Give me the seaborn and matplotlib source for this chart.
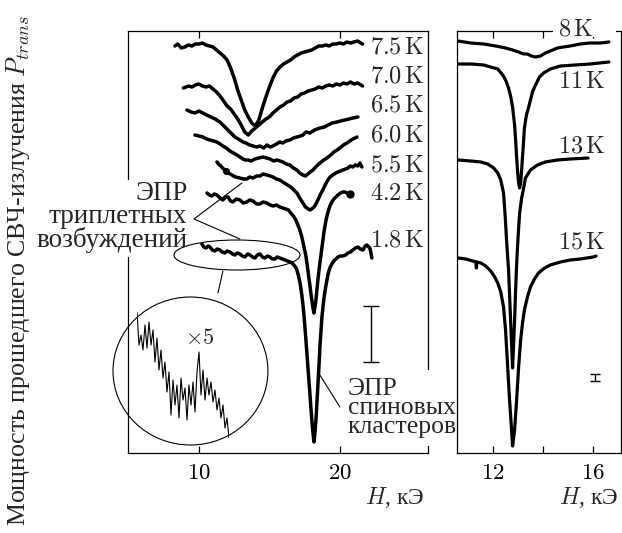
import numpy as np
import pandas as pd
import matplotlib
matplotlib.use('Agg')
import matplotlib.pyplot as plt
import seaborn as sns
from matplotlib.patches import Ellipse, Rectangle

sns.set_style('white')
plt.rcParams['font.family'] = ['Liberation Serif', 'DejaVu Serif']
plt.rcParams['mathtext.fontset'] = 'cm'

# ---------------- data (field H in kOe, transmitted power in arb. units) -------------
T75 = [(8.30, 407), (8.50, 409), (8.75, 405), (9.00, 406), (9.25, 408), (9.50, 407), (9.75, 409),
       (10.00, 409), (10.25, 410), (10.50, 408), (10.75, 407), (11.00, 406), (11.25, 403), (11.50, 400),
       (11.75, 397), (12.00, 393), (12.25, 385), (12.50, 375), (12.75, 363), (13.00, 353), (13.25, 343),
       (13.50, 336), (13.75, 330), (14.00, 327), (14.25, 333), (14.50, 345), (14.75, 356), (15.00, 366),
       (15.25, 375), (15.50, 382), (15.75, 386), (16.00, 389), (16.25, 391), (16.50, 393), (16.75, 396),
       (17.00, 398), (17.25, 400), (17.50, 401), (17.75, 402), (18.00, 403), (18.25, 405), (18.50, 407),
       (18.75, 407), (19.00, 408), (19.25, 407), (19.50, 409), (19.75, 409), (20.00, 410), (20.25, 409),
       (20.50, 411), (20.75, 410), (21.00, 411), (21.25, 412), (21.60, 409)]
T70 = [(8.90, 365), (9.25, 367), (9.50, 366), (9.75, 368), (10.00, 369), (10.25, 367), (10.50, 366),
       (10.75, 367), (11.00, 364), (11.25, 361), (11.50, 357), (11.75, 352), (12.00, 347), (12.25, 344),
       (12.50, 339), (12.75, 334), (13.00, 328), (13.25, 321), (13.50, 318), (13.75, 322), (14.00, 325),
       (14.25, 328), (14.50, 331), (14.75, 334), (15.00, 336), (15.25, 340), (15.50, 343), (15.75, 346),
       (16.00, 348), (16.25, 351), (16.50, 352), (16.75, 355), (17.00, 356), (17.25, 359), (17.50, 360),
       (17.75, 362), (18.00, 363), (18.25, 364), (18.50, 366), (18.75, 365), (19.00, 367), (19.25, 368),
       (19.50, 367), (19.75, 369), (20.00, 368), (20.25, 370), (20.50, 369), (20.75, 371), (21.00, 369),
       (21.25, 370), (21.50, 368), (21.60, 367)]
T65 = [(9.15, 343), (9.45, 341), (9.72, 340), (10.00, 342), (10.28, 340), (10.55, 338), (10.85, 336),
       (11.15, 334), (11.49, 331), (11.84, 326), (12.20, 321), (12.55, 316), (12.91, 313), (13.12, 311),
       (13.33, 310), (13.60, 308), (13.83, 307), (14.10, 306), (14.33, 307), (14.60, 305), (14.82, 308),
       (15.05, 306), (15.25, 307), (15.50, 309), (15.74, 311), (15.95, 310), (16.17, 312), (16.45, 313),
       (16.70, 315), (16.95, 316), (17.20, 317), (17.38, 318), (17.60, 321), (17.87, 320), (18.20, 323),
       (18.59, 325), (18.90, 326), (19.15, 328), (19.45, 330), (19.79, 331), (20.05, 332), (20.35, 333),
       (20.65, 334), (20.92, 335), (21.28, 336)]
T60 = [(9.72, 318), (10.00, 317), (10.28, 316), (10.55, 314), (10.78, 313), (11.05, 312), (11.28, 311),
       (11.50, 309), (11.70, 307), (11.95, 305), (12.20, 302), (12.45, 300), (12.70, 298), (12.91, 296),
       (13.12, 294), (13.30, 293), (13.48, 293), (13.70, 292), (13.97, 294), (14.25, 295), (14.54, 296),
       (14.80, 295), (15.04, 294), (15.30, 292), (15.53, 293), (15.75, 292), (15.96, 291), (16.20, 289),
       (16.45, 288), (16.70, 285), (16.95, 283), (17.15, 280), (17.38, 278), (17.55, 277), (17.73, 279),
       (17.90, 281), (18.09, 283), (18.35, 287), (18.59, 290), (18.85, 293), (19.08, 295), (19.35, 298),
       (19.57, 301), (19.80, 303), (20.00, 305), (20.25, 308), (20.50, 310), (20.70, 312), (20.92, 314),
       (21.21, 316)]
T55 = [(11.28, 291), (11.45, 288), (11.56, 287), (11.75, 284), (11.91, 282), (12.10, 280), (12.34, 278),
       (12.60, 276), (12.91, 275), (13.15, 274), (13.40, 274), (13.60, 276), (13.83, 275), (14.10, 277),
       (14.33, 277), (14.55, 279), (14.82, 278), (15.05, 277), (15.25, 276), (15.50, 274), (15.74, 273),
       (15.95, 271), (16.17, 269), (16.40, 267), (16.60, 265), (16.80, 262), (16.95, 260), (17.15, 255),
       (17.38, 250), (17.55, 246), (17.66, 245), (17.87, 243), (18.00, 244), (18.16, 246), (18.30, 249),
       (18.44, 253), (18.60, 258), (18.79, 263), (18.95, 268), (19.15, 273), (19.30, 276), (19.50, 278),
       (19.70, 280), (19.86, 281), (20.05, 282), (20.21, 283), (20.40, 284), (20.57, 285), (20.75, 287),
       (20.92, 286), (21.10, 288), (21.28, 287), (21.42, 290), (21.56, 286)]
T42 = [(10.57, 260), (10.75, 258), (10.92, 257), (11.10, 259), (11.28, 258), (11.50, 255), (11.70, 253),
       (11.90, 256), (12.06, 256), (12.25, 252), (12.41, 251), (12.65, 254), (12.91, 253), (13.15, 250),
       (13.40, 251), (13.60, 253), (13.83, 252), (14.10, 249), (14.33, 249), (14.55, 251), (14.82, 250),
       (15.05, 248), (15.25, 247), (15.50, 248), (15.74, 246), (15.95, 245), (16.17, 244), (16.35, 243),
       (16.52, 240), (16.70, 237), (16.88, 233), (17.02, 228), (17.16, 223), (17.28, 217), (17.38, 211),
       (17.50, 203), (17.59, 197), (17.66, 190), (17.73, 183), (17.80, 175), (17.87, 168), (17.94, 160),
       (18.01, 153), (18.09, 145), (18.16, 140), (18.23, 146), (18.30, 153), (18.37, 163), (18.44, 173),
       (18.52, 183), (18.59, 191), (18.66, 198), (18.72, 205), (18.80, 213), (18.87, 221), (18.98, 230),
       (19.08, 237), (19.20, 243), (19.29, 247), (19.43, 251), (19.57, 254), (19.72, 256), (19.86, 258),
       (20.05, 260), (20.21, 261), (20.35, 261), (20.50, 260), (20.71, 259)]
T18 = [(10.21, 209), (10.35, 206), (10.50, 205), (10.65, 207), (10.78, 206), (10.95, 203), (11.13, 202),
       (11.30, 204), (11.49, 203), (11.65, 201), (11.84, 200), (12.00, 202), (12.20, 201), (12.38, 199),
       (12.55, 198), (12.72, 200), (12.91, 199), (13.08, 197), (13.26, 196), (13.45, 199), (13.62, 198),
       (13.80, 196), (13.97, 195), (14.15, 198), (14.33, 199), (14.50, 196), (14.68, 195), (14.85, 197),
       (15.04, 196), (15.20, 194), (15.39, 194), (15.55, 196), (15.74, 195), (15.92, 194), (16.10, 193),
       (16.28, 192), (16.45, 191), (16.60, 190), (16.74, 188), (16.85, 186), (16.95, 183), (17.05, 178),
       (17.16, 171), (17.23, 165), (17.30, 158), (17.38, 148), (17.45, 138), (17.52, 126), (17.59, 113),
       (17.66, 100), (17.73, 86), (17.80, 73), (17.87, 60), (17.94, 46), (18.01, 33), (18.09, 20),
       (18.16, 11), (18.23, 20), (18.30, 33), (18.37, 50), (18.44, 68), (18.52, 88), (18.59, 108),
       (18.66, 122), (18.72, 135), (18.80, 146), (18.87, 155), (18.98, 165), (19.08, 173), (19.18, 180),
       (19.29, 185), (19.43, 189), (19.57, 192), (19.72, 194), (19.86, 196), (20.05, 197), (20.21, 197),
       (20.40, 198), (20.57, 200), (20.75, 201), (20.92, 203), (21.10, 205), (21.28, 206), (21.45, 204),
       (21.63, 203), (21.80, 207), (21.91, 208), (22.05, 206), (22.13, 205), (22.20, 200), (22.27, 195)]

T8 = [(10.62, 412), (11.13, 410), (11.64, 409), (12.12, 407), (12.51, 405), (12.79, 403), (13.03, 401),
      (13.23, 399), (13.38, 399), (13.54, 397), (13.70, 396), (13.90, 397), (14.09, 400), (14.29, 402),
      (14.57, 405), (14.81, 406), (15.08, 407), (15.48, 409), (15.87, 410), (16.27, 410), (16.62, 411)]
T11 = [(10.62, 389), (11.13, 389), (11.64, 388), (11.92, 386), (12.20, 384), (12.40, 378), (12.51, 373),
       (12.63, 365), (12.71, 357), (12.79, 346), (12.87, 328), (12.91, 313), (12.95, 296), (12.99, 281),
       (13.03, 270), (13.07, 265), (13.11, 270), (13.15, 283), (13.19, 298), (13.23, 313), (13.26, 325),
       (13.34, 338), (13.42, 345), (13.50, 353), (13.58, 361), (13.70, 368), (13.86, 376), (14.02, 380),
       (14.29, 384), (14.69, 387), (15.28, 388), (15.87, 389), (16.62, 391)]
T13 = [(10.62, 293), (11.13, 292), (11.53, 291), (11.80, 289), (12.04, 285), (12.20, 280), (12.32, 273),
       (12.43, 260), (12.47, 246), (12.51, 231), (12.55, 213), (12.59, 198), (12.63, 183), (12.67, 158),
       (12.71, 133), (12.75, 108), (12.79, 85), (12.83, 108), (12.87, 133), (12.91, 163), (12.95, 188),
       (12.99, 208), (13.03, 225), (13.07, 240), (13.15, 255), (13.23, 265), (13.30, 275), (13.50, 283),
       (13.78, 288), (14.09, 291), (14.57, 293), (15.08, 294), (15.79, 295)]
T15 = [(10.62, 195), (10.93, 194), (11.21, 192), (11.33, 191), (11.35, 185), (11.37, 191), (11.53, 190),
       (11.72, 187), (11.92, 182), (12.08, 176), (12.20, 170), (12.32, 161), (12.43, 146), (12.51, 123),
       (12.59, 88), (12.67, 53), (12.75, 23), (12.79, 7), (12.87, 23), (12.95, 53), (13.03, 86),
       (13.11, 113), (13.19, 131), (13.26, 143), (13.38, 156), (13.50, 166), (13.66, 174), (13.82, 180),
       (14.06, 185), (14.29, 188), (14.69, 191), (15.08, 193), (15.48, 194), (15.99, 196), (16.11, 197)]

# x5 magnified fragment of the 1.8 K trace (triplet region), sample-by-sample
INSET = [138, 105, 115, 100, 125, 102, 128, 105, 120, 88, 112, 80, 100, 72, 88, 58, 78, 35, 70, 45,
         65, 32, 72, 50, 62, 30, 65, 45, 68, 38, 78, 98, 55, 80, 50, 72, 55, 68, 48, 60, 40, 52, 32,
         45, 22, 32, 12]

LEFT_LABELS = ['7.5', '7.0', '6.5', '6.0', '5.5', '4.2', '1.8']
LEFT_LABEL_Y = [405, 376, 347, 317, 287, 259, 212]
RIGHT_LABELS = ['8', '11', '13', '15']
RIGHT_LABEL_Y = [423, 371, 306, 210]

LEFT_TICKS = [10, 20]
RIGHT_TICKS = [12, 14, 16]
RIGHT_TICKLABELS = ['12', '', '16']

# scale bars: (H, centre, half-height)
BAR_LEFT = (22.2, 119, 28)
BAR_RIGHT = (16.05, 75.5, 3.5)

# ---------------- figure ----------------
W, Hh = 622, 533
fig = plt.figure(figsize=(6.22, 5.33), dpi=100)
fig.patch.set_facecolor('white')


def fx(px):
    return px / W


def fy(py):
    return 1 - py / Hh


ax1 = fig.add_axes([fx(128), fy(453), fx(428) - fx(128), fy(31) - fy(453)])
ax2 = fig.add_axes([fx(457), fy(453), fx(620.5) - fx(457), fy(31) - fy(453)])

for ax in (ax1, ax2):
    ax.set_facecolor('white')
    for s in ax.spines.values():
        s.set_color('black')
        s.set_linewidth(0.9)
    ax.set_yticks([])
    ax.tick_params(axis='x', direction='in', top=True, bottom=True, length=5, width=0.9,
                   colors='black', labelsize=16.5, pad=7)
    ax.set_ylim(0, 422)

ax1.set_xlim(4.97, 26.25)
ax2.set_xlim(10.58, 17.08)


def draw(ax, pts, lw):
    df = pd.DataFrame(pts, columns=['H', 'P'])
    sns.lineplot(data=df, x='H', y='P', ax=ax, color='black', lw=lw, estimator=None,
                 sort=False, solid_joinstyle='round', solid_capstyle='round')


for c in (T75, T70, T65, T60, T55, T42, T18):
    draw(ax1, c, 2.5)
for c in (T8, T11, T13, T15):
    draw(ax2, c, 2.3)

# blobs at ends of traces
ax1.plot([T42[-1][0]], [T42[-1][1]], 'o', color='black', ms=5)
ax1.plot([T55[4][0]], [T55[4][1]], 'o', color='black', ms=4)

ax1.set_xticks(LEFT_TICKS)
ax1.set_xticklabels([f'${t}$' for t in LEFT_TICKS])
ax2.set_xticks(RIGHT_TICKS)
ax2.set_xticklabels([f'${t}$' if t else '' for t in RIGHT_TICKLABELS])
for ax in (ax1, ax2):
    ax.set_xlabel('')
    ax.set_ylabel('')

for lab, y in zip(LEFT_LABELS, LEFT_LABEL_Y):
    ax1.text(22.13, y, rf'${lab}\,\mathrm{{K}}$', ha='left', va='center', fontsize=17.5, clip_on=False)
for lab, y in zip(RIGHT_LABELS, RIGHT_LABEL_Y):
    ax2.text(14.61, y, rf'${lab}\,\mathrm{{K}}$', ha='left', va='center', fontsize=17.5, clip_on=False,
             zorder=4)

# white gaps in the frame where text sits
ax2.add_patch(Rectangle((fx(553), fy(37)), fx(616) - fx(553), fy(25) - fy(37), transform=fig.transFigure,
                        facecolor='white', edgecolor='none', clip_on=False, zorder=2.7))
ax1.add_patch(Rectangle((fx(121), fy(257)), fx(135) - fx(121), fy(180) - fy(257), transform=fig.transFigure,
                        facecolor='white', edgecolor='none', clip_on=False, zorder=2.7))
ax1.add_patch(Rectangle((fx(421), fy(446)), fx(435) - fx(421), fy(370) - fy(446), transform=fig.transFigure,
                        facecolor='white', edgecolor='none', clip_on=False, zorder=2.7))

# scale bars
ax1.errorbar([BAR_LEFT[0]], [BAR_LEFT[1]], yerr=[BAR_LEFT[2]], color='black', lw=1.0, capsize=5.5,
             capthick=1.0, clip_on=False)
ax2.errorbar([BAR_RIGHT[0]], [BAR_RIGHT[1]], yerr=[BAR_RIGHT[2]], color='black', lw=1.0, capsize=3.3,
             capthick=1.0, clip_on=False)

# annotations: triplet excitations
ax1.add_patch(Ellipse((12.70, 198), 8.94, 30, fill=False, edgecolor='black', lw=0.8, clip_on=False))
ax1.plot([13.05, 9.65, 12.91], [270, 234, 214], color='black', lw=0.8)
ax1.plot([11.70, 11.35], [182, 160], color='black', lw=0.8)
ax1.add_patch(Ellipse((9.40, 82), 10.99, 148, fill=False, edgecolor='black', lw=0.8, clip_on=False))
ax1.text(9.18, 236, 'ЭПР\nтриплетных\nвозбуждений', ha='right', va='center', multialignment='right',
         fontsize=19.5, linespacing=0.92, zorder=4, clip_on=False)
ax1.text(10.07, 114, r'$\times 5$', ha='center', va='center', fontsize=16)

# annotations: spin clusters
ax1.plot([18.58, 20.0], [78, 46], color='black', lw=0.8)
ax1.text(20.57, 45, 'ЭПР\nспиновых\nкластеров', ha='left', va='center', multialignment='left',
         fontsize=18.5, linespacing=0.8, zorder=4, clip_on=False)

# axis labels
ax1.text(0.99, -0.105, r'$H$, кЭ', transform=ax1.transAxes, ha='right', va='center', fontsize=17)
ax2.text(0.99, -0.105, r'$H$, кЭ', transform=ax2.transAxes, ha='right', va='center', fontsize=17)
fig.text(fx(18), fy(270), 'Мощность прошедшего СВЧ-излучения $P_{trans}$', rotation=90,
         ha='center', va='center', fontsize=18.6)

# magnified inset trace
axi = fig.add_axes([fx(137), fy(438), fx(229) - fx(137), fy(312) - fy(438)])
sns.lineplot(x=np.arange(len(INSET)), y=INSET, ax=axi, color='black', lw=0.8, estimator=None)
axi.set_xlim(0, len(INSET) - 1)
axi.set_ylim(min(INSET), max(INSET))
axi.axis('off')

fig.savefig('out.png', dpi=100, facecolor='white')
